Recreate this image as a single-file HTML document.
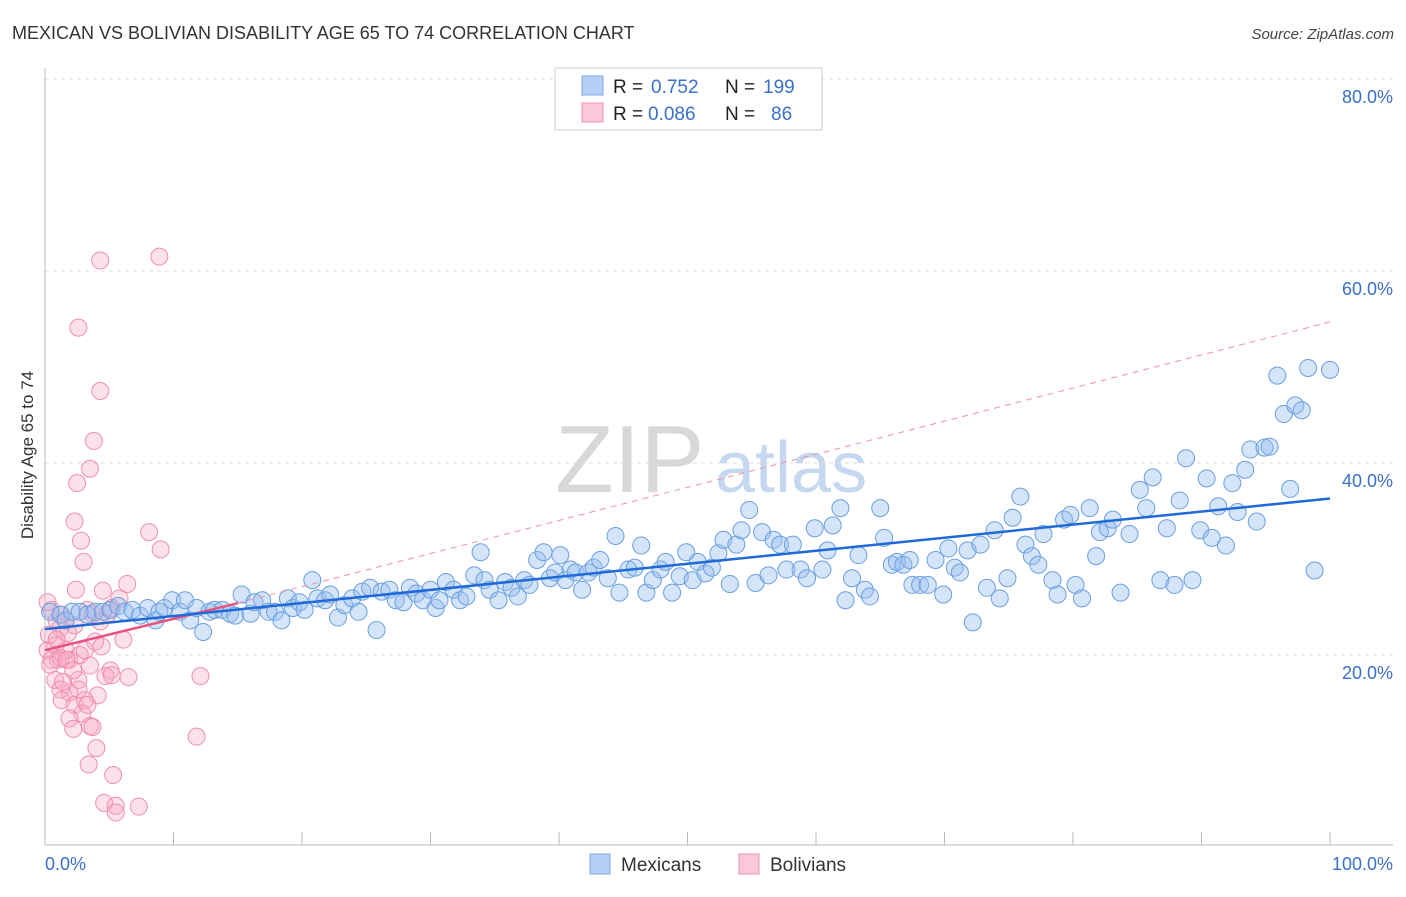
<!DOCTYPE html>
<html><head><meta charset="utf-8"><style>
body{margin:0;background:#fff;font-family:"Liberation Sans",sans-serif}
svg text{font-family:"Liberation Sans",sans-serif}
</style></head><body>
<svg id="chart" width="1406" height="892" viewBox="0 0 1406 892" xmlns="http://www.w3.org/2000/svg">
<text x="12" y="39" font-size="18" fill="#333">MEXICAN VS BOLIVIAN DISABILITY AGE 65 TO 74 CORRELATION CHART</text>
<text x="1394" y="39" font-size="15" fill="#444" font-style="italic" text-anchor="end">Source: ZipAtlas.com</text>
<g>
<text x="555" y="492" font-size="96" fill="#d8d8d8" font-family="Liberation Serif,serif">ZIP</text>
<text x="715" y="492" font-size="72" fill="#c5d8ef">atlas</text>
</g>
<g id="grid"></g>
<g id="axes"></g>
<g id="pts"></g>
<g id="lines"></g>
<text transform="translate(33,455) rotate(-90)" font-size="17" fill="#333" text-anchor="middle">Disability Age 65 to 74</text>
<g>
<rect x="555" y="68" width="267" height="62" fill="#fff" stroke="#ccc"/>
<rect x="582" y="76" width="21" height="19" fill="#b5d0f4" stroke="#7aa8e6"/>
<text x="613" y="93" font-size="19" fill="#222">R = </text><text x="651" y="93" font-size="19" fill="#3a70c8">0.752</text>
<text x="725" y="93" font-size="19" fill="#222">N = </text><text x="763" y="93" font-size="19" fill="#3a70c8">199</text>
<rect x="582" y="103" width="21" height="19" fill="#fac8d6" stroke="#ef94b0"/>
<text x="613" y="120" font-size="19" fill="#222">R = </text><text x="648" y="120" font-size="19" fill="#3a70c8">0.086</text>
<text x="725" y="120" font-size="19" fill="#222">N = </text><text x="771" y="120" font-size="19" fill="#3a70c8">86</text>
</g>
<g>
<rect x="590" y="854" width="20" height="20" fill="#b5d0f4" stroke="#7aa8e6"/>
<text x="621" y="871" font-size="19" fill="#333">Mexicans</text>
<rect x="739" y="854" width="20" height="20" fill="#fac8d6" stroke="#ef94b0"/>
<text x="770" y="871" font-size="19" fill="#333">Bolivians</text>
</g>
</svg>
<script>
const xTicks=[0,10,20,30,40,50,60,70,80,90,100];
const yTicks=[20,40,60,80];
const yTickLabels=["20.0%","40.0%","60.0%","80.0%"];
const xEndLabels=["0.0%","100.0%"];
const mexX=[0.4,1.2,1.6,2.1,2.7,3.3,3.9,4.5,5.1,5.7,6.2,6.8,7.4,8.0,8.6,8.9,9.3,9.9,10.5,10.9,11.3,11.8,12.3,12.8,13.2,13.8,14.4,14.8,15.3,16.0,16.3,16.9,17.4,17.9,18.4,18.9,19.3,19.8,20.2,20.8,21.2,21.8,22.2,22.8,23.3,23.9,24.4,24.7,25.3,25.8,26.2,26.8,27.3,27.9,28.4,28.9,29.4,30.0,30.4,30.7,31.2,31.8,32.3,32.8,33.4,33.9,34.2,34.6,35.3,35.8,36.3,36.8,37.3,37.7,38.3,38.8,39.3,39.7,40.1,40.5,40.9,41.3,41.8,42.3,42.7,43.2,43.8,44.4,44.7,45.4,45.9,46.4,46.8,47.3,47.9,48.3,48.8,49.4,49.9,50.4,50.8,51.4,51.9,52.4,52.8,53.3,53.8,54.2,54.8,55.3,55.8,56.3,56.7,57.2,57.7,58.2,58.8,59.3,59.9,60.5,60.9,61.3,61.9,62.3,62.8,63.3,63.8,64.2,65.0,65.3,65.9,66.3,66.8,67.3,67.5,68.1,68.7,69.3,69.9,70.3,70.8,71.2,71.8,72.2,72.8,73.3,73.9,74.3,74.9,75.3,75.9,76.3,76.8,77.3,77.7,78.4,78.8,79.3,79.8,80.2,80.7,81.3,81.8,82.1,82.7,83.1,83.7,84.4,85.2,85.7,86.2,86.8,87.3,87.9,88.3,88.8,89.3,89.9,90.4,90.8,91.3,91.9,92.4,92.8,93.4,93.8,94.3,94.9,95.3,95.9,96.4,96.9,97.3,97.8,98.3,98.8,100];
const mexY=[24.5,24.2,23.6,24.5,24.5,24.2,24.5,24.5,24.7,25.1,24.5,24.7,24.1,24.9,23.6,24.5,24.9,25.7,24.5,25.7,23.6,24.9,22.4,24.5,24.7,24.7,24.3,24.1,26.3,24.3,25.5,25.7,24.5,24.5,23.6,25.9,24.9,25.5,24.7,27.8,25.9,25.7,26.3,23.9,25.2,25.9,24.5,26.6,27.0,22.6,26.6,26.8,25.7,25.5,27.0,26.4,25.7,26.8,24.9,25.7,27.6,26.8,25.7,26.1,28.3,30.7,27.8,26.8,25.7,27.6,27.0,26.1,27.8,27.3,29.9,30.7,28.0,28.6,30.4,27.8,28.9,28.6,26.8,28.6,29.1,29.9,28.0,32.4,26.5,28.9,29.1,31.4,26.5,27.8,28.9,29.7,26.5,28.2,30.7,27.8,29.7,28.5,29.1,30.6,32.0,27.4,31.5,33.0,35.1,27.5,32.8,28.3,32.0,31.5,28.9,31.5,28.9,28.0,33.2,28.9,30.9,33.5,35.3,25.7,28.0,30.4,26.8,26.1,35.3,32.2,29.4,29.7,29.4,29.9,27.3,27.3,27.3,29.9,26.3,31.1,29.1,28.6,30.9,23.4,31.5,27.0,33.0,25.9,28.0,34.3,36.5,31.5,30.3,29.4,32.6,27.8,26.3,34.1,34.6,27.3,25.9,35.3,30.3,32.8,33.2,34.1,26.5,32.6,37.2,35.3,38.5,27.8,33.2,27.3,36.1,40.5,27.8,33.0,38.4,32.2,35.5,31.4,37.9,34.9,39.3,41.4,33.9,41.6,41.7,49.1,45.1,37.3,46.0,45.5,49.9,28.8,49.7];
const bolX=[4.3,8.9,2.6,4.3,3.8,3.5,2.5,2.3,2.8,8.1,9.0,3.0,2.4,4.5,6.4,0.5,0.9,1.2,1.8,2.3,3.3,4.3,5.2,0.8,1.6,1.0,1.9,2.7,3.9,4.4,6.1,0.3,0.2,0.5,1.2,1.7,3.5,5.1,2.6,4.7,5.2,6.5,12.1,0.8,1.2,1.9,1.3,4.1,2.3,3.1,2.9,3.3,1.9,3.5,2.2,3.7,11.8,4.0,3.4,5.3,4.6,5.5,5.5,7.3,0.2,1.3,3.1,2.2,0.9,1.6,3.7,5.8,0.4,1.4,2.6,4.9];
const bolY=[61.1,61.5,54.1,47.5,42.3,39.4,37.9,33.9,31.9,32.8,31.0,29.7,26.8,26.7,27.4,24.7,23.6,22.8,22.3,23.1,24.7,23.5,24.9,21.0,20.5,19.5,19.5,20.0,21.4,20.9,21.6,22.1,20.5,19.5,19.7,19.5,18.9,18.4,17.4,17.8,17.9,17.7,17.8,17.4,16.4,16.1,15.3,15.8,14.8,15.3,13.9,14.8,13.4,12.6,12.3,12.5,11.5,10.3,8.6,7.5,4.6,4.3,3.6,4.2,25.5,24.2,20.5,18.4,21.6,23.6,24.3,25.9,19.0,17.2,16.4,24.3];
const mexTrend=[22.7,36.3];
const bolTrend=[20.5,25.4,15];
const bolDash=[54.7];

const NS="http://www.w3.org/2000/svg";
const X0=45,X1=1330,Y0=847,PY=9.6;
const sx=v=>X0+(X1-X0)*v/100;
const sy=v=>Y0-v*PY;
function mk(tag,attrs,parent){const e=document.createElementNS(NS,tag);for(const k in attrs)e.setAttribute(k,attrs[k]);parent.appendChild(e);return e;}
const grid=document.getElementById('grid'),axes=document.getElementById('axes'),pts=document.getElementById('pts'),lines=document.getElementById('lines');
yTicks.forEach((t,i)=>{
 const l=mk('line',{x1:45,x2:1393,y1:sy(t),y2:sy(t),stroke:'#ddd','stroke-dasharray':'4,4'},grid);
 
 
 const tx=mk('text',{x:1393,y:sy(t)+24,'font-size':18,fill:'#3a70c8','text-anchor':'end'},grid);
 tx.textContent=yTickLabels[i];
 
 
});
mk('line',{x1:45,x2:45,y1:68,y2:845,stroke:'#bbb'},axes);
mk('line',{x1:45,x2:1393,y1:845,y2:845,stroke:'#bbb'},axes);
xTicks.forEach(t=>{
 const l=mk('line',{x1:sx(t),x2:sx(t),y1:832,y2:845,stroke:'#bbb'},axes);
 
 
});
const xl0=mk('text',{x:45,y:870,'font-size':18,fill:'#3a70c8'},axes);xl0.textContent=xEndLabels[0];


const xl1=mk('text',{x:1393,y:870,'font-size':18,fill:'#3a70c8','text-anchor':'end'},axes);xl1.textContent=xEndLabels[1];


bolX.forEach((x,i)=>{
 const c=mk('circle',{cx:sx(x),cy:sy(bolY[i]),r:8.5,fill:'rgba(248,170,195,0.35)',stroke:'#ef8fad','stroke-width':1},pts);
 
 
});
mexX.forEach((x,i)=>{
 const c=mk('circle',{cx:sx(x),cy:sy(mexY[i]),r:8.5,fill:'rgba(150,190,240,0.4)',stroke:'#6a9fe0','stroke-width':1},pts);
 
 
});
const d=mk('line',{x1:sx(bolTrend[2]),y1:sy(bolTrend[1]),x2:sx(100),y2:sy(bolDash[0]),stroke:'#ef8fad','stroke-width':1,'stroke-dasharray':'6,5'},lines);


const b=mk('line',{x1:sx(0),y1:sy(bolTrend[0]),x2:sx(bolTrend[2]),y2:sy(bolTrend[1]),stroke:'#e8527f','stroke-width':2.5},lines);


const m=mk('line',{x1:sx(0),y1:sy(mexTrend[0]),x2:sx(100),y2:sy(mexTrend[1]),stroke:'#1f6ad6','stroke-width':2.5},lines);


</script>
</body></html>
